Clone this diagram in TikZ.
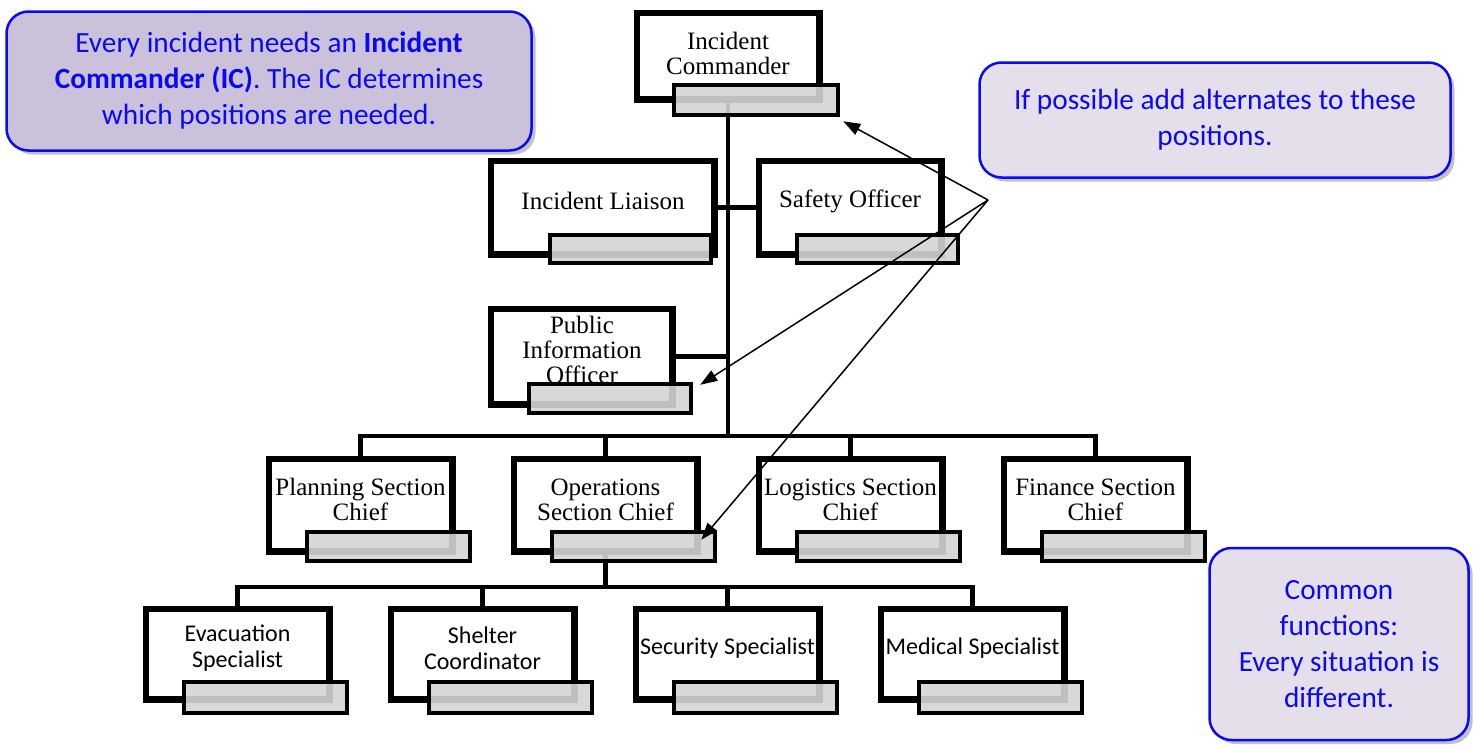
\documentclass[tikz,border=0pt]{standalone}
\usepackage{fontspec}
\setmainfont{Liberation Serif}
\newfontfamily\carlito{Carlito}
\usetikzlibrary{arrows.meta,shadows}
\definecolor{callblue}{RGB}{10,10,240}
\definecolor{lavdark}{RGB}{204,193,218}
\definecolor{lavlight}{RGB}{229,223,236}
\definecolor{barfill}{RGB}{212,212,212}
\begin{document}
\begin{tikzpicture}[x=1pt,y=-1pt,
 posbox/.style={draw=black, line width=4.5pt, fill=white, inner sep=0pt},
 altbar/.style={draw=black, line width=4.5pt, fill=barfill, fill opacity=0.9, draw opacity=1, inner sep=0pt, minimum width=163pt, minimum height=29pt},
 serlabel/.style={font=\fontsize{25}{25}\selectfont, align=center, inner sep=0pt},
 sanslabel/.style={font=\carlito\fontsize{24}{26}\selectfont, align=center, inner sep=0pt},
 link/.style={line width=4.5pt},
 pointer/.style={line width=1.5pt, -{Triangle[length=17pt,width=12pt]}},
 callout/.style={draw=callblue, line width=2.5pt, rounded corners=22pt, text=callblue,
   font=\carlito\fontsize{29.3}{36}\selectfont, align=center, inner sep=0pt,
   drop shadow={shadow xshift=4pt, shadow yshift=-4pt, fill=gray!70, opacity=0.7}},
]
\useasboundingbox (0,0) rectangle (1474,747);

% ---------- boxes ----------
\node[posbox, minimum width=180pt, minimum height=84pt] (ic) at (728,56) {};
\node[posbox, minimum width=221pt, minimum height=91pt] (liaison) at (602.5,207.5) {};
\node[posbox, minimum width=180pt, minimum height=91pt] (safety) at (850,207.5) {};
\node[posbox, minimum width=179pt, minimum height=93pt] (pio) at (581.5,356.5) {};
\node[posbox, minimum width=181pt, minimum height=90pt] (plan) at (360.5,505) {};
\node[posbox, minimum width=181pt, minimum height=90pt] (ops) at (605.5,505) {};
\node[posbox, minimum width=181pt, minimum height=90pt] (logi) at (850.5,505) {};
\node[posbox, minimum width=181pt, minimum height=90pt] (fin) at (1095.5,505) {};
\node[posbox, minimum width=181pt, minimum height=88pt] (evac) at (237.5,654) {};
\node[posbox, minimum width=181pt, minimum height=88pt] (shelter) at (482.5,654) {};
\node[posbox, minimum width=181pt, minimum height=88pt] (secur) at (727.5,654) {};
\node[posbox, minimum width=181pt, minimum height=88pt] (medic) at (972.5,654) {};

% ---------- connectors ----------
\coordinate (hb) at (728,436);
\coordinate (lb) at (606,587);
\draw[link] (ic.south) -- (ic.south |- hb);
\draw[link] (liaison.east) -- (safety.west);
\draw[link] (pio.east) -- (pio.east -| ic.south);
\draw[link] (plan.north) |- (hb) -| (fin.north);
\draw[link] (ops.north) -- (ops.north |- hb);
\draw[link] (logi.north) -- (logi.north |- hb);
\draw[link] (ops.south) -- (ops.south |- lb);
\draw[link] (evac.north) |- (lb) -| (medic.north);
\draw[link] (shelter.north) -- (shelter.north |- lb);
\draw[link] (secur.north) -- (secur.north |- lb);

% redraw box outlines over connector ends
\foreach \n in {ic,liaison,safety,pio,plan,ops,logi,fin,evac,shelter,secur,medic}
  \draw[line width=4.5pt] (\n.north west) rectangle (\n.south east);

% ---------- labels ----------
\node[serlabel] (icl) at (728,53) {Incident\\Commander};
\node[serlabel] (liaisonl) at (603,201) {Incident Liaison};
\node[serlabel] (safetyl) at (850,201) {Safety Officer};
\node[serlabel] (piol) at (582,350) {Public\\Information\\Officer};
\node[serlabel] (planl) at (360.5,499.5) {Planning Section\\Chief};
\node[serlabel] (opsl) at (605.5,499.5) {Operations\\Section Chief};
\node[serlabel] (logil) at (850.5,499.5) {Logistics Section\\Chief};
\node[serlabel] (finl) at (1095.5,499.5) {Finance Section\\Chief};
\node[sanslabel] (evacl) at (237.5,648) {Evacuation\\Specialist};
\node[sanslabel] (shelterl) at (482.5,648) {Shelter\\Coordinator};
\node[sanslabel] (securl) at (727.5,648) {Security Specialist};
\node[sanslabel] (medicl) at (972.5,648) {Medical Specialist};

% ---------- alternate bars ----------
\node[altbar, minimum width=164pt, minimum height=30pt] (icbar) at (756,100) {};
\node[altbar, minimum width=161pt, minimum height=28pt] (liaisonbar) at (630.5,249) {};
\node[altbar, minimum width=161pt, minimum height=28pt] (safetybar) at (877.5,249) {};
\node[altbar, minimum width=162pt, minimum height=29pt] (piobar) at (610,398.5) {};
\node[altbar] (planbar) at (388.5,546.5) {};
\node[altbar] (opsbar) at (633.5,546.5) {};
\node[altbar] (logibar) at (878.5,546.5) {};
\node[altbar] (finbar) at (1123.5,546.5) {};
\node[altbar, minimum height=31pt] (evacbar) at (265.5,697.5) {};
\node[altbar, minimum height=31pt] (shelterbar) at (510.5,697.5) {};
\node[altbar, minimum height=31pt] (securbar) at (755.5,697.5) {};
\node[altbar, minimum height=31pt] (medicbar) at (1000.5,697.5) {};

% ---------- pointers ----------
\coordinate (src) at (988,200);
\draw[pointer] (src) -- ([xshift=3pt,yshift=-4pt]icbar.south east);
\draw[pointer] (src) -- ([xshift=7pt,yshift=-3pt]piobar.north east);
\draw[pointer] (src) -- ([xshift=-16pt,yshift=-10pt]opsbar.north east);

% ---------- callouts ----------
\node[callout, fill=lavdark, minimum width=525pt, minimum height=139pt] (note1) at (269,81)
  {Every incident needs an \textbf{Incident}\\\textbf{Commander (IC)}. The IC determines\\which positions are needed.};
\node[callout, fill=lavlight, minimum width=471pt, minimum height=115pt] (note2) at (1215,120)
  {If possible add alternates to these\\positions.};
\node[callout, fill=lavlight, minimum width=259pt, minimum height=192pt] (note3) at (1339,644)
  {Common\\functions:\\Every situation is\\different.};
\end{tikzpicture}
\end{document}
